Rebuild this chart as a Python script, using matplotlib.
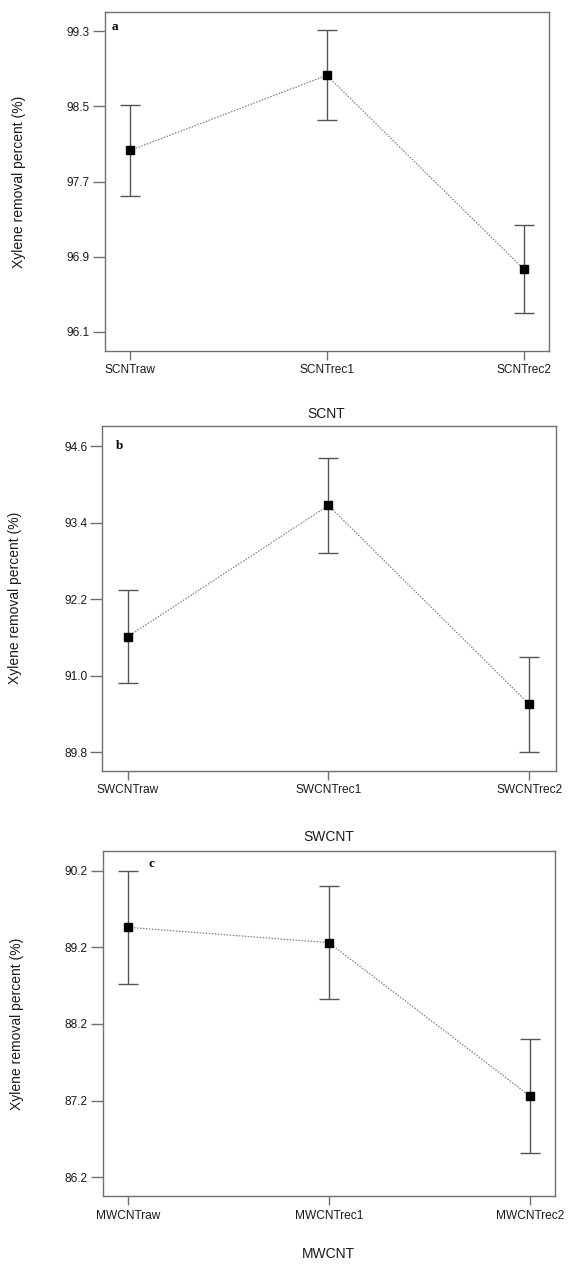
import matplotlib
matplotlib.use("Agg")
import matplotlib.pyplot as plt

# ---- data ----
scnt_labels = ["SCNTraw", "SCNTrec1", "SCNTrec2"]
scnt_mean = [98.03, 98.83, 96.77]
scnt_err = [0.48, 0.48, 0.47]
scnt_ticks = [96.1, 96.9, 97.7, 98.5, 99.3]

swcnt_labels = ["SWCNTraw", "SWCNTrec1", "SWCNTrec2"]
swcnt_mean = [91.61, 93.67, 90.55]
swcnt_err = [0.73, 0.74, 0.74]
swcnt_ticks = [89.8, 91.0, 92.2, 93.4, 94.6]

mwcnt_labels = ["MWCNTraw", "MWCNTrec1", "MWCNTrec2"]
mwcnt_mean = [89.46, 89.26, 87.26]
mwcnt_err = [0.74, 0.74, 0.74]
mwcnt_ticks = [86.2, 87.2, 88.2, 89.2, 90.2]

xlabels = ["SCNT", "SWCNT", "MWCNT"]
panel_letters = ["a", "b", "c"]

plt.rcParams['font.family'] = ['Liberation Sans', 'DejaVu Sans']

fig = plt.figure(figsize=(5.68, 12.67), dpi=100)

W, H = 568.0, 1267.0
boxes = [(104.7, 548.7, 12.3, 350.7),
         (102.3, 555.7, 425.7, 770.7),
         (102.7, 554.7, 850.7, 1196.3)]
ylims = [(95.90, 99.50), (89.51, 94.92), (85.95, 90.46)]
xlims = [(-0.129, 2.128), (-0.126, 2.131), (-0.126, 2.124)]
letter_pos = [(0.022, 0.956), (0.037, 0.941), (0.108, 0.961)]
xlabel_y = [-0.167, -0.172, -0.148]
ylabel_x = [-0.177, -0.177, -0.175]

datasets = [(scnt_labels, scnt_mean, scnt_err, scnt_ticks),
            (swcnt_labels, swcnt_mean, swcnt_err, swcnt_ticks),
            (mwcnt_labels, mwcnt_mean, mwcnt_err, mwcnt_ticks)]

spine_col = "#707070"
text_col = "#1a1a1a"
for i, (labels, mean, err, ticks) in enumerate(datasets):
    l, r, t, b = boxes[i]
    ax = fig.add_axes([l / W, (H - b) / H, (r - l) / W, (b - t) / H])
    x = list(range(len(labels)))
    ax.plot(x, mean, linestyle=(0, (1.2, 1.2)), color="#808080", lw=0.9, zorder=2)
    ax.errorbar(x, mean, yerr=err, fmt="none", ecolor="#555555", elinewidth=1.0,
                capsize=7, capthick=1.0, zorder=3)
    ax.plot(x, mean, "s", color="black", markersize=6.2, zorder=4)
    ax.set_xlim(*xlims[i])
    ax.set_ylim(*ylims[i])
    ax.set_xticks(x)
    ax.set_xticklabels(labels, fontsize=8.6, color=text_col)
    ax.set_yticks(ticks)
    ax.set_yticklabels([f"{v:.1f}" for v in ticks], fontsize=8.6, color=text_col)
    for s in ax.spines.values():
        s.set_color(spine_col)
        s.set_linewidth(1.0)
    ax.tick_params(axis="x", direction="out", length=6.5, width=1.0, color=spine_col, pad=3.2)
    ax.tick_params(axis="y", direction="out", length=8.6, width=1.0, color=spine_col, pad=2)
    ax.set_xlabel(xlabels[i], fontsize=10, color=text_col)
    ax.xaxis.set_label_coords(0.5, xlabel_y[i])
    ax.set_ylabel("Xylene removal percent (%)", fontsize=10, color=text_col)
    ax.yaxis.set_label_coords(ylabel_x[i], 0.5)
    ax.text(letter_pos[i][0], letter_pos[i][1], panel_letters[i], transform=ax.transAxes,
            fontsize=9.5, fontweight="bold", family="Liberation Serif",
            ha="center", va="center", color="black")

fig.savefig("out.png", dpi=100)
